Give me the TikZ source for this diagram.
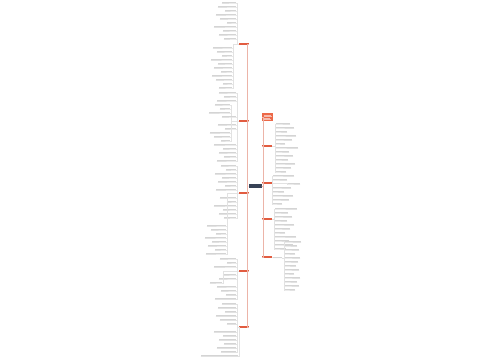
\documentclass[tikz,border=0pt]{standalone}
\usetikzlibrary{calc}
\definecolor{brred}{RGB}{226,92,64}
\definecolor{orred}{RGB}{236,104,72}
\definecolor{rootc}{RGB}{55,66,86}
\definecolor{linered}{RGB}{236,180,168}
\definecolor{leafgray}{RGB}{212,212,212}
\definecolor{linegray}{RGB}{226,226,226}
\begin{document}
\begin{tikzpicture}[x=1pt,y=-1pt,
  branch/.style={fill=brred,minimum width=10pt,minimum height=2.6pt,inner sep=0pt},
  rootbox/.style={fill=rootc,minimum width=13pt,minimum height=3.4pt,inner sep=0pt},
  leafbox/.style={fill=leafgray,minimum height=1.3pt,inner sep=0pt},
  conn/.style={draw=linered,line width=0.4pt},
  leafconn/.style={draw=linegray,line width=0.3pt}]
\useasboundingbox[fill=white] (0,0) rectangle (500,360);

% root
\node[rootbox] (root) at (255,186) {};

% left branches
\node[branch] (b1) at (244,44) {};
\node[branch] (b2) at (244,121) {};
\node[branch] (b3) at (244,193) {};
\node[branch] (b4) at (244,271) {};
\node[branch] (b5) at (244,327) {};
\foreach \b in {b1,b2,b3,b4,b5}{
  \draw[conn] (root.west) -- ++(-1,0) |- (\b.east);
}

% right branches
\node[fill=orred,minimum width=11pt,minimum height=8pt,inner sep=0pt] (r0) at (267.5,117) {};
\foreach \yy/\ll in {-2.2/7,-0.6/8,1/6,2.6/7}{
  \draw[white!55!orred,line width=0.35pt] ($(r0.west)+(1.8,\yy)$) -- ++(\ll,0);
}
\node[branch] (r1) at (267,146) {};
\node[branch] (r2) at (267,183) {};
\node[branch] (r3) at (267,219) {};
\node[branch] (r4) at (267,257) {};
\foreach \b in {r0,r1,r2,r3,r4}{
  \draw[conn] (root.east) -- ++(1,0) |- (\b.west);
}

% left leaves: y / width / right edge
\foreach \y/\w/\xr [count=\i] in {3/14/236,7/18/236,11/11/236,15/20/236,19/16/236,23/9/236,27/22/236,31/13/236,35/17/236,39/12/236,
  48/19/232,52/15/232,56/10/232,60/21/232,64/14/232,68/18/232,72/11/232,76/20/232,80/16/232,84/9/232,88/13/232}{
  \node[leafbox,minimum width=\w pt,anchor=south east] (la\i) at (\xr,\y) {};
  \draw[leafconn] (la\i.south west) -- (la\i.south east) -- ++(1.2,0) |- (b1.west);
}
\foreach \y/\w/\xr [count=\i] in {93/17/236,97/12/236,101/19/236,105/15/230,109/10/230,113/21/230,117/14/236,125/18/236,129/11/236,133/20/230,137/16/230,141/9/230,145/22/236,149/13/236,153/17/236,157/12/236,161/19/236}{
  \node[leafbox,minimum width=\w pt,anchor=south east] (lb\i) at (\xr,\y) {};
  \draw[leafconn] (lb\i.south west) -- (lb\i.south east) -- ++(1.2,0) |- (b2.west);
}
\foreach \y/\w/\xr [count=\i] in {166/15/236,170/10/236,174/21/236,178/14/236,182/18/236,186/11/236,190/20/236,198/16/236,202/9/236,206/22/236,210/13/236,214/17/236,218/12/236,
  226/19/226,230/15/226,234/10/226,238/21/226,242/14/226,246/18/226,250/11/226,254/20/226}{
  \node[leafbox,minimum width=\w pt,anchor=south east] (lc\i) at (\xr,\y) {};
  \draw[leafconn] (lc\i.south west) -- (lc\i.south east) -- ++(1.2,0) |- (b3.west);
}
\foreach \y/\w/\xr [count=\i] in {259/16/236,263/9/236,267/22/236,275/13/236,279/17/236,283/12/222,287/19/236,291/15/236,295/10/236,299/21/236}{
  \node[leafbox,minimum width=\w pt,anchor=south east] (ld\i) at (\xr,\y) {};
  \draw[leafconn] (ld\i.south west) -- (ld\i.south east) -- ++(1.2,0) |- (b4.west);
}
\foreach \y/\w/\xr [count=\i] in {304/14/236,308/18/236,312/11/236,316/20/236,320/16/236,324/9/236,332/22/236,336/13/236,340/17/236,344/12/236,348/19/236,352/15/236,356/37/238}{
  \node[leafbox,minimum width=\w pt,anchor=south east] (le\i) at (\xr,\y) {};
  \draw[leafconn] (le\i.south west) -- (le\i.south east) -- ++(1.2,0) |- (b5.west);
}

% right leaves: y / width / left edge
\foreach \y/\w/\xl [count=\i] in {124/14/276,128/18/276,132/11/276,136/20/276,140/16/276,144/9/276,148/22/276,152/13/276,156/17/276,160/12/276,164/19/276,168/15/276,172/10/276}{
  \node[leafbox,minimum width=\w pt,anchor=south west] (ra\i) at (\xl,\y) {};
  \draw[leafconn] (ra\i.south east) -- (ra\i.south west) -- ++(-1.2,0) |- (r1.east);
}
\foreach \y/\w/\xl [count=\i] in {176/21/273,180/14/273,184/12/288,188/18/273,192/11/273,196/20/273,200/16/273,204/9/273}{
  \node[leafbox,minimum width=\w pt,anchor=south west] (rb\i) at (\xl,\y) {};
  \draw[leafconn] (rb\i.south east) -- (rb\i.south west) -- ++(-1.2,0) |- (r2.east);
}
\foreach \y/\w/\xl [count=\i] in {209/22/275,213/13/275,217/17/275,221/12/275,225/19/275,229/15/275,233/10/275,237/21/275,241/14/275,245/18/275,249/11/275}{
  \node[leafbox,minimum width=\w pt,anchor=south west] (rc\i) at (\xl,\y) {};
  \draw[leafconn] (rc\i.south east) -- (rc\i.south west) -- ++(-1.2,0) |- (r3.east);
}
\node[leafbox,minimum width=9pt,anchor=south west] (rd0) at (273,258) {};
\draw[leafconn] (r4.east) -- (rd0.south west) -- (rd0.south east);
\foreach \y/\w/\xl [count=\i] in {242/16/285,246/12/285,250/14/285,254/10/285,258/15/285,262/13/285,266/11/285,270/14/285,274/9/285,278/15/285,282/12/285,286/14/285,290/10/285}{
  \node[leafbox,minimum width=\w pt,anchor=south west] (rd\i) at (\xl,\y) {};
  \draw[leafconn] (rd\i.south east) -- (rd\i.south west) -- ++(-1.2,0) |- (rd0.south east);
}
\end{tikzpicture}
\end{document}
